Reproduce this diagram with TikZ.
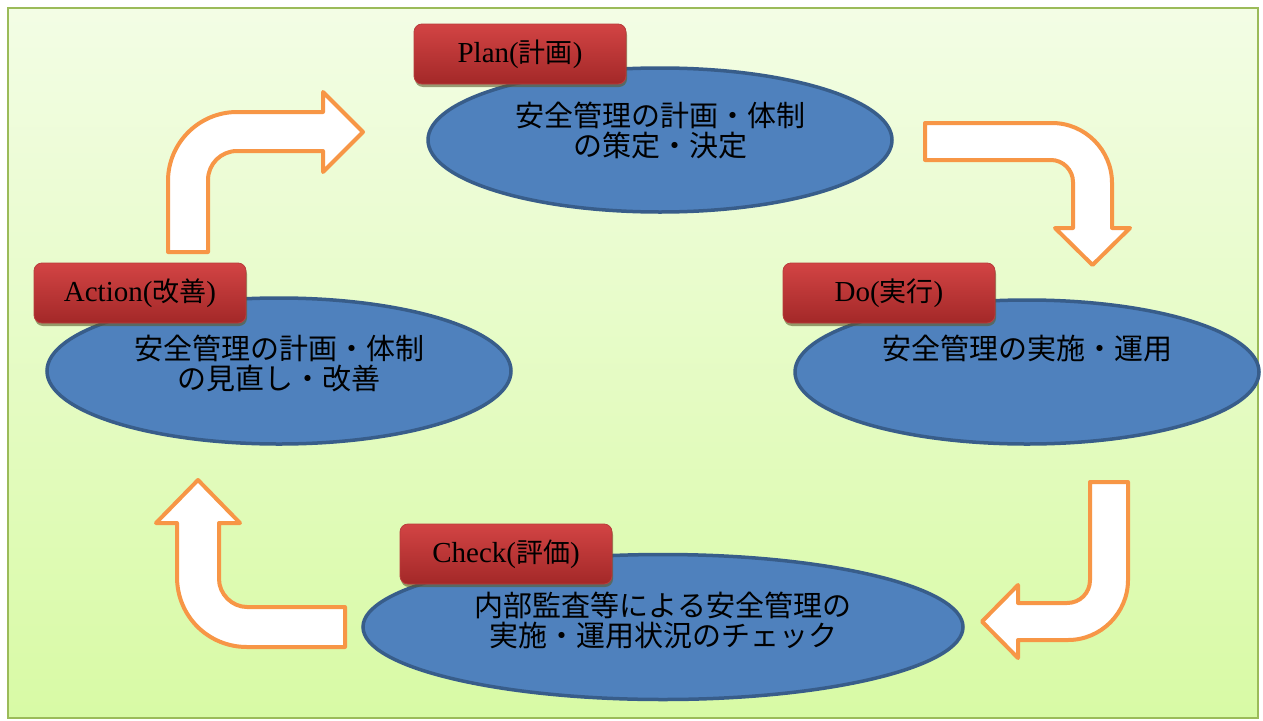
\documentclass[tikz,border=0pt]{standalone}
\usepackage{fontspec}
\setmainfont{Liberation Serif}
\newfontfamily\jpfont{Noto Sans CJK JP}
\usetikzlibrary{shapes.geometric,shadows}

\definecolor{bgtop}{HTML}{F3FDE5}
\definecolor{bgbottom}{HTML}{D8FAA5}
\definecolor{frame}{HTML}{9BBB59}
\definecolor{ellfill}{HTML}{4F81BD}
\definecolor{elldraw}{HTML}{385D8A}
\definecolor{arroworange}{HTML}{F79646}
\definecolor{redtop}{HTML}{D24444}
\definecolor{redbottom}{HTML}{A32828}
\definecolor{redline}{HTML}{B83C3C}

\newcommand{\phase}[2]{\fontsize{29}{30}\selectfont #1({\jpfont\fontsize{27}{30}\selectfont #2})}

\tikzset{
  stage/.style={ellipse, draw=elldraw, fill=ellfill, line width=3.5pt,
    minimum width=464pt, minimum height=144pt},
  stagetext/.style={align=center, font=\jpfont\fontsize{29}{30}\selectfont},
  phasebox/.style={rounded corners=8pt, draw=redline, line width=0.8pt,
    top color=redtop, bottom color=redbottom,
    minimum width=212pt, minimum height=60pt, inner sep=0pt,
    drop shadow={shadow xshift=1pt, shadow yshift=-3pt, fill=black!45!olive, opacity=0.6}},
  bentarrow/.style={draw=arroworange, fill=white, line width=4pt, line join=round}
}

\begin{document}
\begin{tikzpicture}[x=1pt, y=-1pt]
  \useasboundingbox (0,0) rectangle (1263,720);

  % Background
  \fill[top color=bgtop, bottom color=bgbottom] (8,8) rectangle (1258,718);
  \draw[frame, line width=2pt] (8,8) rectangle (1258,718);

  % Arrows
  \draw[bentarrow] (168,252) -- (168,181) .. controls (168,143) and (199,112) .. (237,112)
    -- (323,112) -- (323,92) -- (363,132) -- (323,172) -- (323,151) -- (237,151)
    .. controls (221,151) and (208,164) .. (208,180) -- (208,252) -- cycle;
  \draw[bentarrow] (925,123) -- (1052,123) .. controls (1085,123) and (1112,150) .. (1112,183)
    -- (1112,228) -- (1130,228) -- (1092.5,265) -- (1055,228) -- (1073,228) -- (1073,182)
    .. controls (1073,170) and (1063,160) .. (1051,160) -- (925,160) -- cycle;
  \draw[bentarrow] (1090,482) -- (1128,482) -- (1128,580) .. controls (1128,613) and (1101,640) .. (1068,640)
    -- (1018,640) -- (1018,658) -- (982,621.5) -- (1018,585) -- (1018,603) -- (1067,603)
    .. controls (1080,603) and (1090,593) .. (1090,580) -- cycle;
  \draw[bentarrow] (345,607) -- (247,607) .. controls (232,607) and (219,594) .. (219,579)
    -- (219,523) -- (240,523) -- (198,480) -- (156,523) -- (177,523) -- (177,577)
    .. controls (177,616) and (208,647) .. (247,647) -- (345,647) -- cycle;

  % Define nodes
  \node[stage] (plan) at (660,140) {};
  \node[stage] (do) at (1027,372) {};
  \node[stage, minimum width=600pt, minimum height=145pt] (check) at (663,627) {};
  \node[stage, minimum height=146pt] (act) at (279,371) {};

  \node[stagetext] (plantext) at (660,130) {安全管理の計画・体制\\の策定・決定};
  \node[stagetext] (dotext) at (1027,348) {安全管理の実施・運用};
  \node[stagetext] (checktext) at (663,620) {内部監査等による安全管理の\\実施・運用状況のチェック};
  \node[stagetext] (acttext) at (279,363) {安全管理の計画・体制\\の見直し・改善};

  \node[phasebox] (planlabel) at (520,54) {\phase{Plan}{計画}};
  \node[phasebox] (dolabel) at (889,293) {\phase{Do}{実行}};
  \node[phasebox] (checklabel) at (506,554) {\phase{Check}{評価}};
  \node[phasebox] (actlabel) at (140,293) {\phase{Action}{改善}};
\end{tikzpicture}
\end{document}
